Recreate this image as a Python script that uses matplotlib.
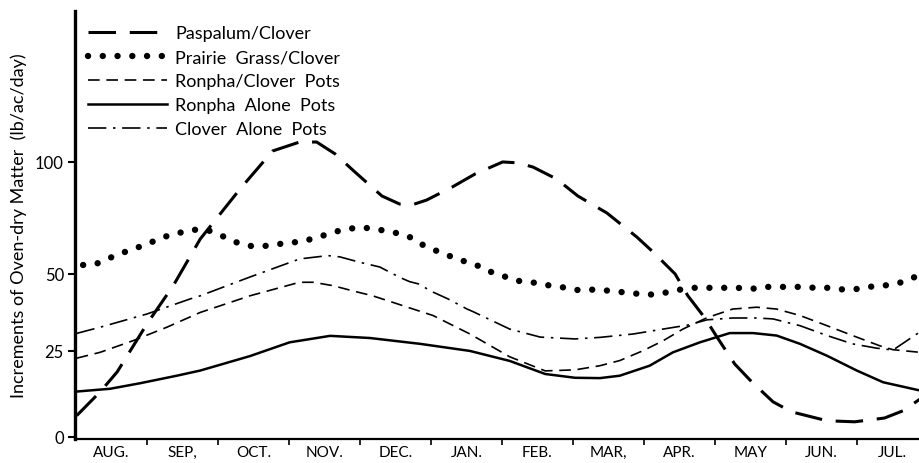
import numpy as np
import matplotlib
matplotlib.use("Agg")
import matplotlib.pyplot as plt

plt.rcParams['font.family'] = ['Lato', 'DejaVu Sans']

# month position: 0 = start of Aug, 1 = start of Sep, ...
months = ["AUG.", "SEP,", "OCT.", "NOV.", "DEC.", "JAN.", "FEB.", "MAR,", "APR.", "MAY", "JUN.", "JUL."]
y_ticks = [0, 25, 50, 100]

paspalum_x = [0.01, 0.34, 0.58, 1.0, 1.37, 1.75, 2.31, 2.77, 3.15, 3.39, 3.65, 3.93, 4.31, 4.56, 4.73,
              4.94, 5.30, 5.62, 6.01, 6.23, 6.44, 6.77, 7.07, 7.48, 7.90, 8.13, 8.44, 8.62, 8.86, 9.03,
              9.28, 9.52, 9.82, 10.08, 10.58, 10.97, 11.39, 11.65, 11.89]
paspalum_y = [6.2, 13.1, 18.9, 33.8, 46.2, 65.6, 87.9, 104.9, 108.9, 108.9, 103.6, 95.5, 84.8, 81.2, 80.8,
              83.0, 88.8, 94.6, 100.0, 99.6, 97.7, 92.4, 84.8, 77.2, 66.5, 59.8, 50.0, 42.9, 35.7, 29.5,
              21.2, 16.0, 10.2, 7.3, 4.7, 4.4, 5.5, 7.6, 11.0]

prairie_x = [0.1, 0.27, 0.44, 0.59, 0.77, 0.94, 1.11, 1.28, 1.45, 1.62, 1.82, 2.03, 2.24, 2.45, 2.66,
             2.87, 3.15, 3.32, 3.55, 3.75, 3.99, 4.17, 4.35, 4.59, 4.73, 4.89, 5.08, 5.25, 5.41, 5.56,
             5.69, 5.82, 6.01, 6.21, 6.42, 6.63, 6.85, 7.06, 7.28, 7.49, 7.73, 7.94, 8.13, 8.32, 8.48,
             8.69, 8.89, 9.13, 9.32, 9.51, 9.68, 9.85, 10.03, 10.23, 10.41, 10.59, 10.77, 10.97, 11.15,
             11.35, 11.54, 11.70, 11.85]
prairie_y = [54.0, 54.3, 56.7, 58.6, 60.8, 62.6, 64.8, 66.9, 68.3, 69.6, 70.0, 67.4, 64.3, 62.5, 62.5,
             63.4, 64.4, 65.6, 67.8, 69.7, 70.8, 70.3, 69.3, 67.8, 66.1, 62.9, 60.3, 58.2, 56.2, 54.9,
             53.3, 51.2, 49.4, 47.8, 47.3, 46.4, 45.7, 44.8, 44.9, 44.6, 44.0, 43.5, 43.3, 44.0, 44.8,
             45.5, 45.5, 45.5, 45.5, 45.1, 45.8, 45.8, 45.8, 45.8, 45.5, 45.5, 45.0, 45.0, 45.8,
             46.1, 46.8, 47.7, 49.4]

ronpha_clover_x = [0.01, 0.34, 0.8, 1.28, 1.75, 2.45, 3.15, 3.34, 3.62, 3.9, 4.18, 4.46, 4.75, 5.03,
                   5.55, 6.11, 6.61, 7.03, 7.38, 7.66, 7.99, 8.27, 8.55, 8.89, 9.25, 9.59, 9.87, 10.2,
                   10.58, 10.94, 11.32, 11.51, 11.89]
ronpha_clover_y = [22.9, 24.6, 28.3, 32.7, 37.5, 42.9, 47.3, 47.3, 46.2, 44.5, 42.9, 40.8, 38.6, 36.5,
                   30.5, 23.3, 19.2, 19.5, 20.7, 22.2, 25.1, 28.3, 32.1, 35.8, 38.6, 39.2, 38.6, 36.5,
                   33.2, 30.0, 26.7, 25.4, 24.6]

ronpha_alone_x = [0.01, 0.48, 0.9, 1.42, 1.75, 2.45, 3.01, 3.58, 4.14, 4.85, 5.55, 6.11, 6.61, 7.03,
                  7.38, 7.66, 8.08, 8.41, 8.79, 9.21, 9.54, 9.87, 10.2, 10.58, 11.0, 11.37, 11.89]
ronpha_alone_y = [13.2, 14.0, 15.6, 17.8, 19.3, 23.5, 27.8, 29.9, 29.2, 27.3, 25.0, 22.1, 18.3, 17.2,
                  17.1, 17.8, 20.7, 24.6, 27.8, 30.8, 30.8, 30.0, 27.3, 23.6, 19.3, 15.9, 13.5]

clover_alone_x = [0.01, 0.34, 1.0, 1.61, 1.75, 2.45, 3.15, 3.55, 3.72, 4.0, 4.28, 4.56, 4.7, 4.82,
                  5.03, 5.24, 5.51, 5.59, 6.11, 6.54, 7.03, 7.38, 7.85, 8.27, 8.62, 8.89, 9.25, 9.59,
                  9.82, 10.2, 10.58, 10.94, 11.28, 11.51, 11.89]
clover_alone_y = [30.7, 32.7, 37.0, 41.9, 42.9, 49.0, 56.7, 58.2, 57.6, 55.2, 53.1, 48.9, 47.5, 46.8,
                  44.1, 41.9, 38.6, 37.8, 32.1, 29.5, 28.9, 29.4, 30.5, 32.1, 33.4, 35.1, 35.7, 35.7,
                  35.4, 33.2, 30.0, 27.3, 25.9, 25.3, 31.2]

# the printed y axis is not evenly spaced: 0-25 taller than 25-50, 50-100 squeezed
scale_vals = [-100, 0, 25, 50, 100, 300]
scale_pos = [-344, 0, 86, 163, 275, 723]


def fwd(v):
    return np.interp(v, scale_vals, scale_pos)


def inv(p):
    return np.interp(p, scale_pos, scale_vals)


fig = plt.figure(figsize=(9.2, 4.64), dpi=100)
ax = fig.add_axes([75 / 920, 24 / 464, 845 / 920, 428 / 464])
ax.set_yscale('function', functions=(fwd, inv))

ax.plot(paspalum_x, paspalum_y, color='black', lw=2.2, ls=(0, (9, 4.5)),
        label='Paspalum/Clover')
ax.plot(prairie_x, prairie_y, color='black', lw=4.6, ls=(0, (0.01, 2.3)),
        dash_capstyle='round', label='Prairie  Grass/Clover')
ax.plot(ronpha_clover_x, ronpha_clover_y, color='black', lw=1.2, ls=(0, (7, 4)),
        label='Ronpha/Clover  Pots')
ax.plot(ronpha_alone_x, ronpha_alone_y, color='black', lw=1.8, label='Ronpha  Alone  Pots')
ax.plot(clover_alone_x, clover_alone_y, color='black', lw=1.2, ls=(0, (11, 4, 1.5, 4)),
        label='Clover  Alone  Pots')

ax.set_xlim(-0.014, 11.89)
ax.set_ylim(-0.6, 167.4)

ax.set_yticks(y_ticks)
ax.set_yticklabels([str(t) for t in y_ticks], fontsize=12)
ax.set_xticks(range(1, 12))
ax.set_xticklabels([])
ax.set_xticks(np.arange(12) + 0.5, minor=True)
ax.set_xticklabels(months, minor=True, fontsize=11)
ax.tick_params(axis='x', which='minor', length=0, pad=4)
ax.tick_params(axis='x', which='major', length=4, width=1.2, direction='out')
ax.tick_params(axis='y', length=5, width=1.5, direction='out', pad=3)

ax.spines['top'].set_visible(False)
ax.spines['right'].set_visible(False)
ax.spines['left'].set_linewidth(2.4)
ax.spines['bottom'].set_linewidth(1.6)

ax.set_ylabel('Increments of Oven-dry Matter  (lb/ac/day)', fontsize=13, labelpad=6)

ax.legend(loc='upper left', bbox_to_anchor=(0.0, 0.997), frameon=False, fontsize=13,
          handlelength=4.4, handletextpad=0.45, labelspacing=0.45, borderaxespad=0.3)

fig.savefig('out.png', dpi=100)
